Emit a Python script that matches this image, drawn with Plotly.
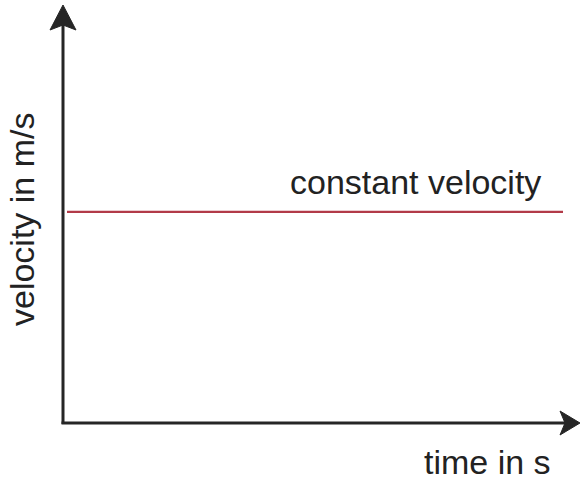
import plotly.graph_objects as go

# Data
time_s = [0, 10]
velocity = [5.05, 5.05]
curve_label = "constant velocity"
x_title = "time in s"
y_title = "velocity in m/s"

W, H = 582, 480

def px(x):
    return x / W

def py(y):
    return 1 - y / H

fig = go.Figure()
fig.add_trace(go.Scatter(
    x=time_s, y=velocity, mode="lines",
    line=dict(color="#b23a48", width=2.2),
    hoverinfo="skip", showlegend=False,
))

axis_col = "#262626"
shapes = [
    dict(type="line", xref="paper", yref="paper", x0=px(63), x1=px(63), y0=py(424), y1=py(24),
         line=dict(color=axis_col, width=3)),
    dict(type="line", xref="paper", yref="paper", x0=px(61.5), x1=px(566), y0=py(423), y1=py(423),
         line=dict(color=axis_col, width=3)),
    dict(type="path", xref="paper", yref="paper",
         path=f"M {px(63)} {py(5)} L {px(50)} {py(30)} L {px(63)} {py(25)} L {px(76)} {py(30)} Z",
         fillcolor=axis_col, line=dict(color=axis_col, width=1)),
    dict(type="path", xref="paper", yref="paper",
         path=f"M {px(580)} {py(423)} L {px(560)} {py(411)} L {px(565)} {py(423)} L {px(560)} {py(435)} Z",
         fillcolor=axis_col, line=dict(color=axis_col, width=1)),
]

font = "Liberation Sans, Arial, Helvetica, sans-serif"
txt_col = "#222222"
annotations = [
    dict(text=curve_label, xref="paper", yref="paper", x=px(415), y=py(181.5),
         xanchor="center", yanchor="middle", showarrow=False,
         font=dict(family=font, size=34, color=txt_col)),
    dict(text=x_title, xref="paper", yref="paper", x=px(487.5), y=py(461.5),
         xanchor="center", yanchor="middle", showarrow=False,
         font=dict(family=font, size=34, color=txt_col)),
    dict(text=y_title, xref="paper", yref="paper", x=px(22), y=py(219),
         xanchor="center", yanchor="middle", showarrow=False, textangle=-90,
         font=dict(family=font, size=34, color=txt_col)),
]

fig.update_layout(
    width=W, height=H,
    margin=dict(l=0, r=0, t=0, b=0),
    paper_bgcolor="white", plot_bgcolor="white",
    xaxis=dict(range=[-67 / 49.6, (582 - 67) / 49.6], visible=False, fixedrange=True),
    yaxis=dict(range=[-57 / 41.8, 10 + 5 / 41.8], visible=False, fixedrange=True),
    shapes=shapes, annotations=annotations,
)

fig.write_html(
    "out.html",
    config={"displayModeBar": False},
    post_script="document.body.style.margin='0';document.body.style.overflow='hidden';",
)
